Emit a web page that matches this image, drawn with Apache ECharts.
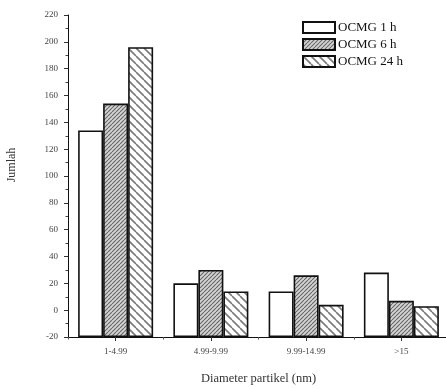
<!DOCTYPE html>
<html>
<head>
<meta charset="utf-8">
<script src="https://cdn.jsdelivr.net/npm/echarts@6/dist/echarts.min.js"></script>
<style>
  html, body { margin: 0; padding: 0; background: #fff; }
  #chart { width: 446px; height: 389px; }
</style>
</head>
<body>
<div id="chart"></div>
<script>
// Particle-size distribution counts per diameter range
const categories = ['1-4.99', '4.99-9.99', '9.99-14.99', '>15'];
const seriesNames = ['OCMG 1 h', 'OCMG 6 h', 'OCMG 24 h'];
const ocmg1h = [134, 20, 14, 28];
const ocmg6h = [154, 30, 26, 7];
const ocmg24h = [196, 14, 4, 3];
const yTicks = { min: -20, max: 220, step: 20 };

// Hatch fills drawn onto small tiles and repeated across the bars
function hatch(size, bg, stroke, width, dir) {
  const c = document.createElement('canvas');
  c.width = size; c.height = size;
  const g = c.getContext('2d');
  g.fillStyle = bg;
  g.fillRect(0, 0, size, size);
  g.strokeStyle = stroke;
  g.lineWidth = width;
  g.beginPath();
  for (let k = -1; k <= 1; k++) {
    if (dir > 0) { // rising "/" lines
      g.moveTo(k * size, size); g.lineTo(k * size + size, 0);
    } else {       // falling "\" lines
      g.moveTo(k * size, 0); g.lineTo(k * size + size, size);
    }
  }
  g.stroke();
  return c;
}

const fills = [
  '#ffffff',
  { image: hatch(4, '#d4d4d4', '#666666', 1.1, 1), repeat: 'repeat' },
  { image: hatch(8, '#ffffff', '#7a7a7a', 1.6, -1), repeat: 'repeat' }
];
const values = [ocmg1h, ocmg6h, ocmg24h];

const serif = 'Liberation Serif';
const chart = echarts.init(document.getElementById('chart'));
chart.setOption({
  animation: false,
  backgroundColor: '#fff',
  grid: { left: 68, right: -3, top: 15, bottom: 52, containLabel: false, outerBoundsMode: 'none' },
  legend: {
    orient: 'vertical',
    left: 302,
    top: 21,
    padding: 0,
    itemWidth: 32,
    itemHeight: 11,
    itemGap: 4,
    icon: 'rect',
    textStyle: { fontFamily: serif, fontSize: 13, color: '#111', padding: [0, 0, 0, -2], lineHeight: 12 },
    data: seriesNames
  },
  xAxis: [{
    type: 'category',
    data: categories,
    axisLine: { onZero: false, lineStyle: { color: '#111', width: 1 } },
    axisTick: { show: true, alignWithLabel: true, length: 4, lineStyle: { color: '#333' } },
    axisLabel: { fontFamily: serif, fontSize: 9, color: '#444', margin: 10 },
    name: 'Diameter partikel (nm)',
    nameLocation: 'middle',
    nameGap: 35,
    nameTextStyle: { fontFamily: serif, fontSize: 12.5, color: '#333' }
  }, {
    // boundary tick marks between the ranges
    type: 'category',
    data: categories,
    position: 'bottom',
    axisLine: { show: false, onZero: false },
    axisTick: { show: true, length: 2.5, lineStyle: { color: '#555' } },
    axisLabel: { show: false }
  }],
  yAxis: {
    type: 'value',
    min: yTicks.min,
    max: yTicks.max,
    interval: yTicks.step,
    startValue: yTicks.min,
    splitLine: { show: false },
    axisLine: { show: true, lineStyle: { color: '#111', width: 1 } },
    axisTick: { show: true, length: 4, lineStyle: { color: '#333' } },
    minorTick: { show: true, splitNumber: 2, length: 2.5, lineStyle: { color: '#444' } },
    axisLabel: { fontFamily: serif, fontSize: 9, color: '#444', margin: 10 },
    name: 'Jumlah',
    nameLocation: 'middle',
    nameRotate: 90,
    nameGap: 50,
    nameTextStyle: { fontFamily: serif, fontSize: 12, color: '#333', padding: [0, 0, 0, 22] }
  },
  series: seriesNames.map((name, i) => ({
    name: name,
    type: 'bar',
    data: values[i],
    barWidth: 25,
    barGap: '0%',
    itemStyle: { color: fills[i], borderColor: '#111', borderWidth: 1.6 }
  }))
});
</script>
</body>
</html>
